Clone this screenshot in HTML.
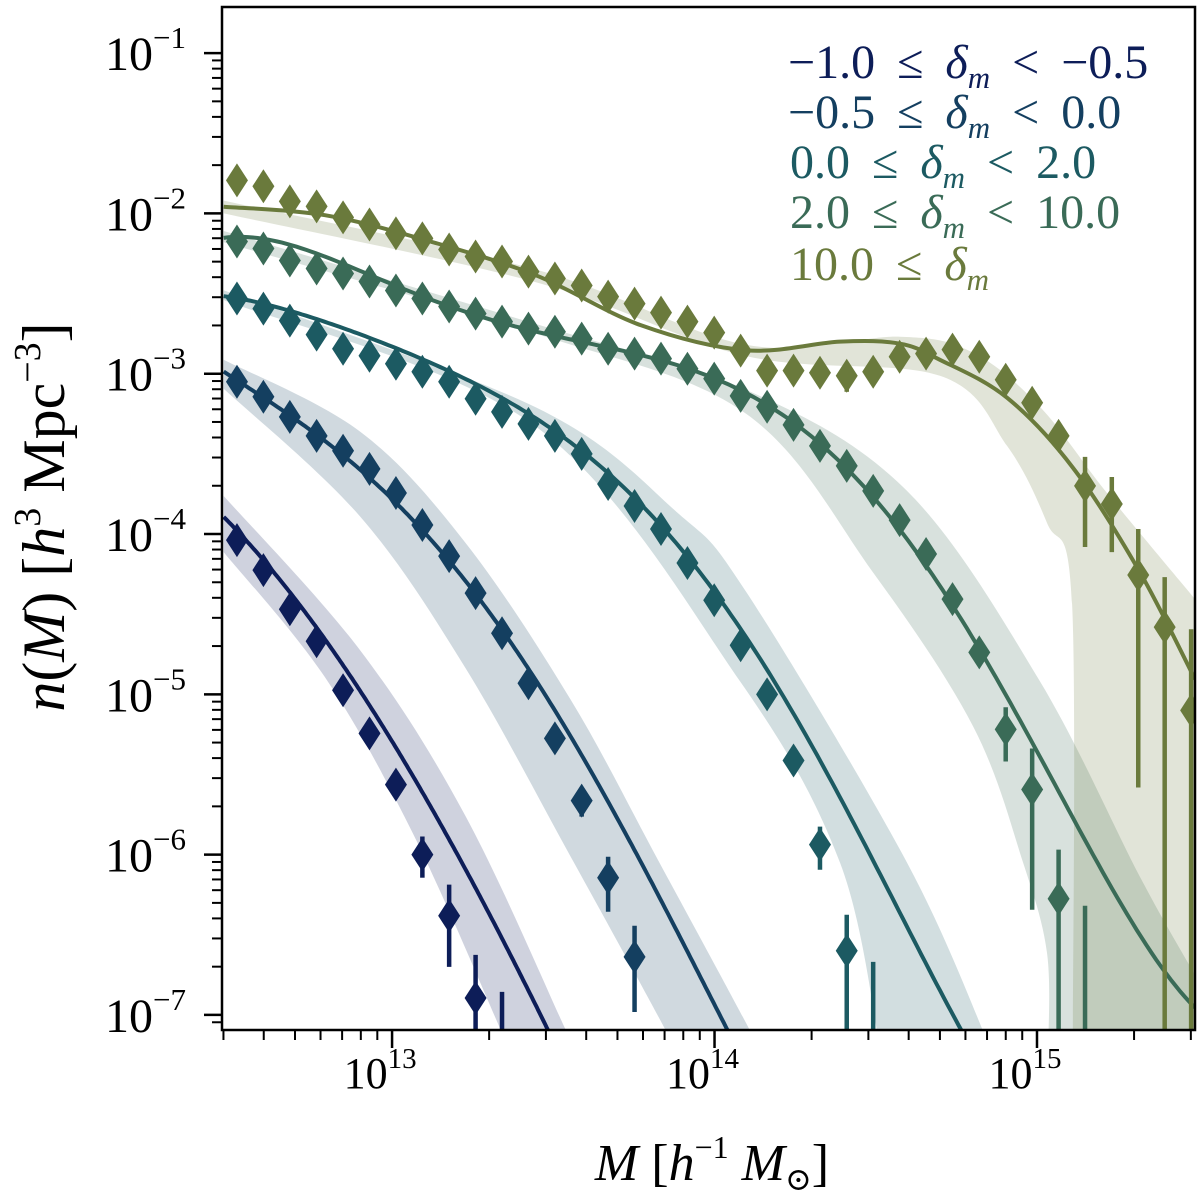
<!DOCTYPE html>
<html><head><meta charset="utf-8">
<style>
html,body{margin:0;padding:0;background:#fff;}
svg{display:block;}
text{font-family:"Liberation Serif","DejaVu Serif",serif;}
</style></head>
<body>
<svg id="chart" width="1200" height="1199" viewBox="0 0 1200 1199" xmlns="http://www.w3.org/2000/svg">
<defs><clipPath id="plotclip"><rect x="222" y="7" width="973" height="1023"/></clipPath></defs>
<g id="bands" clip-path="url(#plotclip)"></g>
<g id="curves" clip-path="url(#plotclip)"></g>
<g id="points" clip-path="url(#plotclip)"></g>
<rect x="222" y="7" width="973" height="1023" fill="none" stroke="#000" stroke-width="2.5"/>
<g id="axes"></g>
<g id="legend"></g>
<text x="0" y="0" font-size="60" transform="translate(64,517) rotate(-90)" text-anchor="middle"><tspan font-style="italic">n</tspan>(<tspan font-style="italic">M</tspan>) [<tspan font-style="italic">h</tspan><tspan font-size="38" dy="-24">3</tspan><tspan dy="24"> Mpc</tspan><tspan font-size="38" dy="-24">−3</tspan><tspan dy="24">]</tspan></text>
<text x="712" y="1180" font-size="52" text-anchor="middle"><tspan font-style="italic">M</tspan> [<tspan font-style="italic">h</tspan><tspan font-size="32" dy="-22">−1</tspan><tspan dy="22"> </tspan><tspan font-style="italic">M</tspan><tspan font-size="32" dy="10">⊙</tspan><tspan dy="-10">]</tspan></text>
</svg>
<script>
// ---- data (log10 values) ----
const massGrid = [12.519,12.601,12.683,12.766,12.848,12.930,13.012,13.094,13.177,13.259,13.341,13.423,13.505,13.588,13.670,13.752,13.834,13.916,13.999,14.081,14.163,14.245,14.327,14.410,14.492,14.574,14.656,14.738,14.821,14.903,14.985,15.067,15.149,15.232,15.314,15.396,15.478];
const legendLo = ["−1.0","−0.5","0.0","2.0","10.0"];
const legendHi = ["−0.5","0.0","2.0","10.0",null];
const colors = ["#0d1d58","#143f60","#1c5a62","#3a6b57","#6a7a3c"];
const pts1 = [-4.038,-4.225,-4.469,-4.669,-4.975,-5.244,-5.563,-6.0,-6.381,-6.894,-7.5];
const errHi1 = [0.04,0.04,0.04,0.04,0.04,0.04,0.05,0.113,0.194,0.269,0.644];
const errLo1 = [0.04,0.04,0.04,0.04,0.04,0.04,0.05,0.144,0.319,1.0,1.0];
const pts2 = [-3.05,-3.144,-3.269,-3.388,-3.481,-3.594,-3.744,-3.944,-4.138,-4.369,-4.619,-4.931,-5.275,-5.663,-6.144,-6.638];
const errHi2 = [0.03,0.03,0.03,0.03,0.03,0.03,0.03,0.03,0.04,0.04,0.04,0.05,0.05,0.08,0.131,0.194];
const errLo2 = [0.03,0.03,0.03,0.03,0.03,0.03,0.03,0.03,0.04,0.04,0.04,0.05,0.05,0.1,0.212,0.344];
const pts3 = [-2.531,-2.594,-2.669,-2.756,-2.844,-2.888,-2.938,-2.988,-3.05,-3.156,-3.238,-3.313,-3.388,-3.5,-3.688,-3.825,-3.969,-4.181,-4.413,-4.694,-5.0,-5.413,-5.938,-6.6,-7.2];
const errHi3 = [0.02,0.02,0.02,0.02,0.02,0.02,0.02,0.02,0.02,0.02,0.02,0.02,0.02,0.02,0.03,0.03,0.03,0.03,0.04,0.04,0.05,0.06,0.113,0.225,0.531];
const errLo3 = [0.02,0.02,0.02,0.02,0.02,0.02,0.02,0.02,0.02,0.02,0.02,0.02,0.02,0.02,0.03,0.03,0.03,0.03,0.04,0.04,0.05,0.07,0.156,1.0,1.0];
const pts4 = [-2.175,-2.219,-2.294,-2.344,-2.375,-2.425,-2.481,-2.531,-2.581,-2.625,-2.675,-2.719,-2.738,-2.781,-2.844,-2.875,-2.906,-2.969,-3.031,-3.138,-3.206,-3.319,-3.45,-3.575,-3.731,-3.913,-4.125,-4.406,-4.738,-5.219,-5.594,-6.275,-7.375];
const errHi4 = [0.02,0.02,0.02,0.02,0.02,0.02,0.02,0.02,0.02,0.02,0.02,0.02,0.02,0.02,0.02,0.02,0.02,0.02,0.02,0.02,0.02,0.02,0.03,0.03,0.03,0.04,0.04,0.05,0.06,0.138,0.256,0.306,1.056];
const errLo4 = [0.02,0.02,0.02,0.02,0.02,0.02,0.02,0.02,0.02,0.02,0.02,0.02,0.02,0.02,0.02,0.02,0.02,0.02,0.02,0.02,0.02,0.02,0.03,0.03,0.03,0.04,0.04,0.05,0.06,0.2,0.75,1.5,1.0];
const pts5 = [-1.794,-1.831,-1.925,-1.956,-2.025,-2.069,-2.125,-2.156,-2.225,-2.269,-2.3,-2.363,-2.406,-2.45,-2.519,-2.563,-2.619,-2.675,-2.744,-2.856,-2.981,-2.981,-2.994,-3.013,-2.988,-2.894,-2.875,-2.85,-2.894,-3.038,-3.181,-3.388,-3.7,-3.813,-4.256,-4.581,-5.1];
const errHi5 = [0.02,0.02,0.02,0.02,0.02,0.02,0.02,0.02,0.02,0.02,0.02,0.02,0.02,0.02,0.02,0.02,0.02,0.02,0.02,0.03,0.03,0.03,0.03,0.04,0.04,0.04,0.04,0.04,0.05,0.06,0.06,0.07,0.181,0.169,0.287,0.312,0.506];
const errLo5 = [0.02,0.02,0.02,0.02,0.02,0.02,0.02,0.02,0.02,0.02,0.02,0.02,0.02,0.02,0.02,0.02,0.02,0.02,0.02,0.03,0.03,0.03,0.03,0.1,0.04,0.04,0.04,0.04,0.05,0.06,0.06,0.07,0.381,0.3,1.325,3.0,3.0];
// model curves
const curveM1 = [12.478,12.792,12.957,13.118,13.282,13.484,13.510];
const curveN1 = [-3.891,-4.672,-5.144,-5.675,-6.319,-7.094,-7.2];
const bandUpM1 = [12.478,12.901,13.228,13.533,13.560];
const bandUpN1 = [-3.763,-4.725,-5.76,-7.069,-7.2];
const bandLoM1 = [12.478,12.792,13.065,13.337,13.355];
const bandLoN1 = [-4.113,-4.894,-5.869,-7.094,-7.2];
const curveM2 = [12.478,12.739,13.009,13.228,13.446,13.663,13.881,14.044,14.060];
const curveN2 = [-2.981,-3.361,-3.781,-4.281,-4.923,-5.675,-6.431,-7.094,-7.2];
const bandUpM2 = [12.478,12.901,13.228,13.554,13.826,14.109,14.125];
const bandUpN2 = [-2.913,-3.361,-4.056,-5.034,-6.038,-7.094,-7.2];
const bandLoM2 = [12.478,12.901,13.228,13.554,13.848,13.865];
const bandLoN2 = [-3.094,-3.891,-4.838,-6.013,-7.094,-7.2];
const curveM3 = [12.478,12.792,13.118,13.446,13.663,13.881,14.098,14.287,14.491,14.699,14.792];
const curveN3 = [-2.511,-2.698,-2.906,-3.261,-3.638,-4.07,-4.66,-5.2,-6.05,-6.9,-7.156];
const bandUpM3 = [12.478,13.446,13.881,14.098,14.597,14.854];
const bandUpN3 = [-2.48,-3.21,-3.86,-4.36,-6.05,-7.2];
const bandLoM3 = [12.478,13.446,14.079,14.389,14.513];
const bandLoN3 = [-2.54,-3.33,-4.919,-6.05,-7.2];
const curveM4 = [12.478,12.792,13.118,13.446,13.772,14.098,14.491,14.802,15.112,15.319,15.490];
const curveN4 = [-2.144,-2.3,-2.511,-2.719,-2.906,-3.136,-3.756,-4.638,-5.769,-6.531,-6.938];
const bandUpM4 = [12.478,13.446,14.098,14.597,15.009,15.319,15.490];
const bandUpN4 = [-2.11,-2.69,-3.1,-3.731,-4.919,-6.138,-6.75];
const bandLoM4 = [12.478,13.446,14.098,14.491,14.802,14.957,15.031,15.035];
const bandLoN4 = [-2.18,-2.75,-3.25,-4.238,-5.2,-6.05,-6.613,-7.2];
const curveM5 = [12.478,12.792,13.118,13.446,13.772,14.098,14.389,14.575,14.699,14.907,15.112,15.319,15.490];
const curveN5 = [-1.958,-2.011,-2.175,-2.386,-2.698,-2.854,-2.8,-2.813,-2.913,-3.15,-3.588,-4.238,-4.906];
const bandUpM5 = [12.478,13.446,14.098,14.575,14.802,15.009,15.217,15.490];
const bandUpN5 = [-1.92,-2.35,-2.82,-2.769,-2.869,-3.206,-3.744,-4.406];
const bandLoM5 = [12.478,13.446,14.098,14.699,14.907,15.031,15.109,15.111];
const bandLoN5 = [-2.0,-2.43,-2.89,-3.013,-3.45,-3.931,-4.438,-7.2];
const xTickExps = [13,14,15];
const yTickExps = [-1,-2,-3,-4,-5,-6,-7];

// ---- axes ----
const X0=222,X1=1195,Y0=7,Y1=1030;
const xmin=12.4726,xmax=15.490,ymax=-0.7125,ymin=-7.094;
function sx(v){return X0+(v-xmin)/(xmax-xmin)*(X1-X0);}
function sy(v){return Y0+(ymax-v)/(ymax-ymin)*(Y1-Y0);}
const NS="http://www.w3.org/2000/svg";
function mk(tag,parent){const e=document.createElementNS(NS,tag);parent.appendChild(e);return e;}
function spline(pts,start){
  let d=(start||"M")+pts[0][0].toFixed(1)+","+pts[0][1].toFixed(1);
  for(let i=0;i<pts.length-1;i++){
    const p0=pts[Math.max(0,i-1)],p1=pts[i],p2=pts[i+1],p3=pts[Math.min(pts.length-1,i+2)];
    const c1=[p1[0]+(p2[0]-p0[0])/6,p1[1]+(p2[1]-p0[1])/6];
    const c2=[p2[0]-(p3[0]-p1[0])/6,p2[1]-(p3[1]-p1[1])/6];
    d+=" C"+c1[0].toFixed(1)+","+c1[1].toFixed(1)+" "+c2[0].toFixed(1)+","+c2[1].toFixed(1)+" "+p2[0].toFixed(1)+","+p2[1].toFixed(1);
  }
  return d;
}
// least-squares polynomial smoothing of a curve (in log space)
function polyPath(M,N,deg){
  const a=M[0],b=M[M.length-1];
  const t=M.map(m=>2*(m-a)/(b-a)-1);
  const n=deg+1;const A=[];const r=[];
  for(let i=0;i<n;i++){A.push(new Array(n).fill(0));r.push(0);}
  t.forEach((tv,k)=>{for(let i=0;i<n;i++){r[i]+=Math.pow(tv,i)*N[k];for(let j=0;j<n;j++)A[i][j]+=Math.pow(tv,i+j);}});
  for(let i=0;i<n;i++){let p=i;for(let k=i+1;k<n;k++)if(Math.abs(A[k][i])>Math.abs(A[p][i]))p=k;
    [A[i],A[p]]=[A[p],A[i]];[r[i],r[p]]=[r[p],r[i]];
    for(let k=i+1;k<n;k++){const f=A[k][i]/A[i][i];for(let j=i;j<n;j++)A[k][j]-=f*A[i][j];r[k]-=f*r[i];}}
  const c=new Array(n).fill(0);
  for(let i=n-1;i>=0;i--){let s=r[i];for(let j=i+1;j<n;j++)s-=A[i][j]*c[j];c[i]=s/A[i][i];}
  let d="";
  for(let s=0;s<=200;s++){const tv=-1+2*s/200;let v=0;for(let i=0;i<n;i++)v+=c[i]*Math.pow(tv,i);
    const m=a+(tv+1)/2*(b-a);d+=(s?" L":"M")+sx(m).toFixed(1)+","+sy(v).toFixed(1);}
  return d;
}
function toPx(M,N){return M.map((m,i)=>[sx(m),sy(N[i])]);}

const bands=document.getElementById('bands'),curves=document.getElementById('curves'),pointsG=document.getElementById('points');
const series=[
 [pts1,errHi1,errLo1,curveM1,curveN1,bandUpM1,bandUpN1,bandLoM1,bandLoN1],
 [pts2,errHi2,errLo2,curveM2,curveN2,bandUpM2,bandUpN2,bandLoM2,bandLoN2],
 [pts3,errHi3,errLo3,curveM3,curveN3,bandUpM3,bandUpN3,bandLoM3,bandLoN3],
 [pts4,errHi4,errLo4,curveM4,curveN4,bandUpM4,bandUpN4,bandLoM4,bandLoN4],
 [pts5,errHi5,errLo5,curveM5,curveN5,bandUpM5,bandUpN5,bandLoM5,bandLoN5]];
const polyDeg=[3,4,5,5,0];
series.forEach((s,k)=>{
  const col=colors[k];
  const up=toPx(s[5],s[6]),lo=toPx(s[7],s[8]);
  const band=mk('path',bands);
  band.setAttribute('d',spline(up)+" L"+X1+","+(Y1+60)+" "+spline(lo.slice().reverse(),"L")+" Z");
  band.setAttribute('fill',col);band.setAttribute('fill-opacity','0.2');
  
  
  const c=mk('path',curves);
  c.setAttribute('d',polyDeg[k]?polyPath(s[3],s[4],polyDeg[k]):spline(toPx(s[3],s[4])));
  c.setAttribute('fill','none');c.setAttribute('stroke',col);c.setAttribute('stroke-width','4');
  
  
  const g=mk('g',pointsG);
  
  
  s[0].forEach((v,i)=>{
    const x=sx(massGrid[i]),y=sy(v);
    const eb=mk('line',g);
    eb.setAttribute('x1',x);eb.setAttribute('x2',x);
    eb.setAttribute('y1',sy(v+s[1][i]));eb.setAttribute('y2',sy(v-s[2][i]));
    eb.setAttribute('stroke',col);eb.setAttribute('stroke-width','4.5');
    
    
    const d=mk('path',g);
    d.setAttribute('d',`M${x},${y-17} L${x+11},${y} L${x},${y+17} L${x-11},${y} Z`);
    d.setAttribute('fill',col);
    
    
  });
});

// ticks
const axes=document.getElementById('axes');


for(let e=12;e<=15;e++){for(let m=1;m<10;m++){
  const v=e+Math.log10(m);if(v<xmin-1e-6||v>xmax+1e-6)continue;
  const x=sx(v);const t=mk('line',axes);
  t.setAttribute('x1',x);t.setAttribute('x2',x);t.setAttribute('y1',Y1);t.setAttribute('y2',Y1+(m===1?18:10));
  t.setAttribute('stroke','#000');t.setAttribute('stroke-width',m===1?'2.5':'2');
  
  
}}
for(let e=-8;e<=-1;e++){for(let m=1;m<10;m++){
  const v=e+Math.log10(m);if(v<ymin-1e-6||v>ymax+1e-6)continue;
  const y=sy(v);const t=mk('line',axes);
  t.setAttribute('x1',X0);t.setAttribute('x2',X0-(m===1?18:10));t.setAttribute('y1',y);t.setAttribute('y2',y);
  t.setAttribute('stroke','#000');t.setAttribute('stroke-width',m===1?'2.5':'2');
  
  
}}
xTickExps.forEach(e=>{
  const t=mk('text',axes);t.setAttribute('x',sx(e)-12);t.setAttribute('y',1088);
  t.setAttribute('font-size','44');t.setAttribute('text-anchor','middle');
  
  
  t.innerHTML='10<tspan font-size="29" dy="-20">'+e+'</tspan>';
});
yTickExps.forEach(e=>{
  const t=mk('text',axes);t.setAttribute('x',186);t.setAttribute('y',sy(e)+17);
  t.setAttribute('font-size','48');t.setAttribute('text-anchor','end');
  
  
  t.innerHTML='10<tspan font-size="31" dy="-22">−'+Math.abs(e)+'</tspan>';
});
// legend
const lg=document.getElementById('legend');
legendLo.forEach((lo,k)=>{
  const t=mk('text',lg);t.setAttribute('x',k<2?788:790);t.setAttribute('y',78+k*50+(k===4?2:0));
  t.setAttribute('font-size','48');t.setAttribute('fill',colors[k]);t.setAttribute('word-spacing','10');
  
  
  let h=lo+' ≤ <tspan font-style="italic">δ</tspan><tspan font-style="italic" font-size="31" dy="10">m</tspan><tspan dy="-10"> </tspan>';
  if(legendHi[k]!==null) h+='&lt; '+legendHi[k];
  t.innerHTML=h;
});
</script>
</body></html>
